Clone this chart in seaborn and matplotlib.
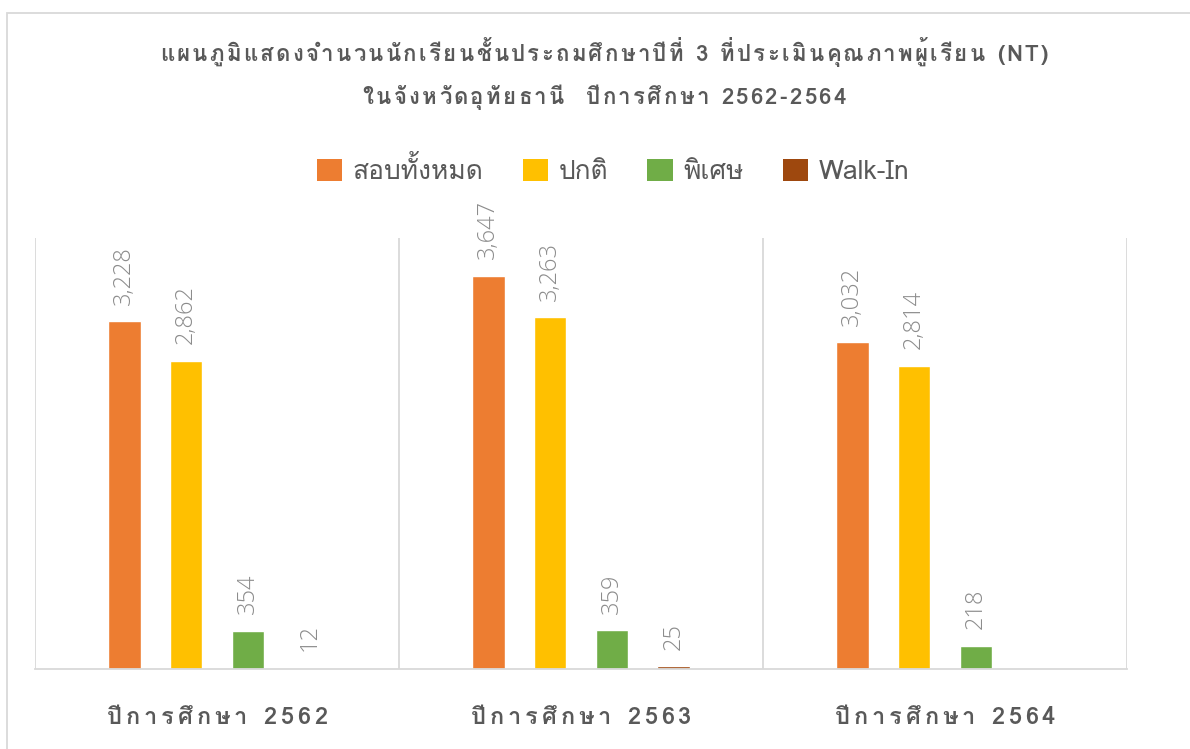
import matplotlib
matplotlib.use('Agg')
import matplotlib.pyplot as plt
from matplotlib.patches import Patch, Rectangle
import numpy as np
import pandas as pd
import seaborn as sns

# data
years = ['ปีการศึกษา 2562', 'ปีการศึกษา 2563', 'ปีการศึกษา 2564']
groups = ['สอบทั้งหมด', 'ปกติ', 'พิเศษ', 'Walk-In']
total = [3228, 3647, 3032]
normal = [2862, 3263, 2814]
special = [354, 359, 218]
walk_in = [12, 25, np.nan]
colors = ['#ED7D31', '#FFC000', '#70AD47', '#9E480E']

title1 = 'แผนภูมิแสดงจำนวนนักเรียนชั้นประถมศึกษาปีที่ 3 ที่ประเมินคุณภาพผู้เรียน (NT)'
title2 = 'ในจังหวัดอุทัยธานี  ปีการศึกษา 2562-2564'

# Loma keeps tone marks above upper vowels without text shaping
THAI = ['Loma', 'IBM Plex Sans Thai Looped', 'DejaVu Sans']

sns.set_theme(style='white')
plt.rcParams['font.family'] = THAI

rows = []
for i, y in enumerate(years):
    for g, vals in zip(groups, [total, normal, special, walk_in]):
        rows.append({'year': y, 'group': g, 'value': vals[i]})
df = pd.DataFrame(rows)

W, H = 1190, 749
fig = plt.figure(figsize=(W / 100, H / 100), dpi=100)
ax = fig.add_axes([35 / W, 80 / H, 1092 / W, 431 / H])

sns.barplot(data=df, x='year', y='value', hue='group', hue_order=groups,
            palette=colors, saturation=1, width=0.68, gap=0.47, ax=ax,
            legend=False, errorbar=None)

for c in ax.containers:
    ax.bar_label(c, fmt='{:,.0f}', rotation=90, padding=12, color='#8c8c8c',
                 fontsize=17, family=['Open Sans', 'DejaVu Sans'],
                 fontweight='light')

ax.set_ylim(0, 4000)
ax.set_xlim(-0.5, 2.5)
ax.set_xlabel('')
ax.set_ylabel('')
ax.set_yticks([])
ax.set_xticks([-0.5, 0.5, 1.5, 2.5], minor=True)
ax.grid(which='minor', axis='x', color='#d9d9d9', lw=1.3)
ax.tick_params(axis='x', which='both', length=0)
ax.set_xticklabels([])
for s in ['top', 'left', 'right']:
    ax.spines[s].set_visible(False)
ax.spines['bottom'].set_color('#d9d9d9')
ax.spines['bottom'].set_linewidth(1.3)

renderer = fig.canvas.get_renderer()
MARKS = {0x0E31} | set(range(0x0E34, 0x0E3B)) | set(range(0x0E47, 0x0E4F))


def clusters(s):
    out = []
    for ch in s:
        if out and ord(ch) in MARKS:
            out[-1] += ch
        else:
            out.append(ch)
    return out


def text_w(s, **kw):
    t = fig.text(0, 0, s + '|', **kw)
    w = t.get_window_extent(renderer).width
    t.remove()
    t = fig.text(0, 0, '|', **kw)
    w -= t.get_window_extent(renderer).width
    t.remove()
    return w


# letter-spaced text, drawn cluster by cluster
def spaced_text(xc, yc, s, spacing, **kw):
    parts = clusters(s)
    offs = []
    prefix = ''
    for p in parts:
        offs.append(text_w(prefix, **kw) if prefix else 0)
        prefix += p
    total_w = text_w(s, **kw) + spacing * (len(parts) - 1)
    x0 = xc - total_w / 2
    for i, p in enumerate(parts):
        fig.text((x0 + offs[i] + i * spacing) / W, yc / H, p, ha='left',
                 va='baseline', **kw)


def fit_spacing(s, width, **kw):
    n = len(clusters(s))
    return (width - text_w(s, **kw)) / (n - 1)


tkw = dict(fontsize=16, fontweight='bold', color='#595959')
sp = fit_spacing(title1, 888, **tkw)
spaced_text(604, H - 61, title1, sp, **tkw)
spaced_text(604, H - 104, title2, sp, **tkw)

ckw = dict(fontsize=17, fontweight='bold', color='#595959')
csp = fit_spacing(years[0], 220, **ckw)
for i, y in enumerate(years):
    xc = ax.transData.transform((i, 0))[0]
    spaced_text(xc, H - 724, y, csp, **ckw)

handles = [Patch(facecolor=c, edgecolor='none') for c in colors]
fig.legend(handles, groups, loc='center', bbox_to_anchor=(613 / W, 1 - 170 / H),
           ncol=4, frameon=False, fontsize=19, labelcolor='#595959',
           handlelength=0.95, handleheight=0.95, handletextpad=0.4,
           columnspacing=1.5)

fig.patches.append(Rectangle((7 / W, -0.1), 1.2, 1.1 - 13 / H, fill=False,
                             edgecolor='#d9d9d9', lw=1.3,
                             transform=fig.transFigure, figure=fig))

fig.savefig('out.png', dpi=100)
